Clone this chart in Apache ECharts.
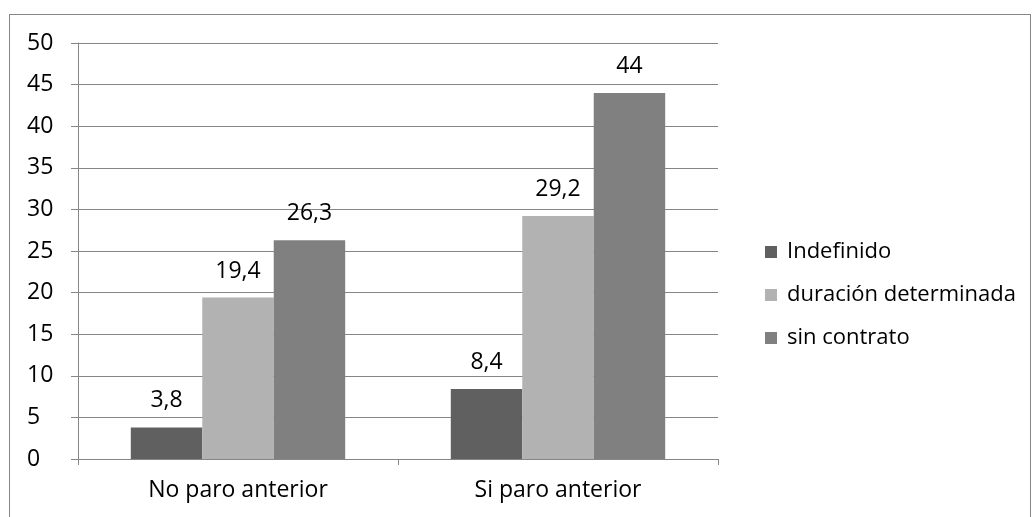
<!DOCTYPE html>
<html>
<head>
<meta charset="utf-8">
<script src="https://cdn.jsdelivr.net/npm/echarts@6/dist/echarts.min.js"></script>
<style>
  html, body { margin: 0; padding: 0; background: #fff; }
  #frame { position: absolute; left: 9px; top: 14px; width: 1022px; height: 510px; border: 1px solid #868686; box-sizing: border-box; }
  #chart { position: absolute; left: 0; top: 0; width: 1034px; height: 517px; }
</style>
</head>
<body>
<div id="frame"></div>
<div id="chart"></div>
<script>
var categories = ['No paro anterior', 'Si paro anterior'];
var indefinido = [3.8, 8.4];
var duracion = [19.4, 29.2];
var sinContrato = [26.3, 44];

var chart = echarts.init(document.getElementById('chart'));

function fmt(p) {
  return String(p.value).replace('.', ',');
}

var labelStyle = {
  show: true,
  position: 'top',
  distance: 15,
  color: '#000',
  fontSize: 23,
  fontFamily: 'Open Sans',
  formatter: fmt
};

chart.setOption({
  animation: false,
  textStyle: { fontFamily: 'Open Sans' },
  grid: { left: 78, right: 316, top: 43, bottom: 58 },
  legend: {
    orient: 'vertical',
    left: 760,
    top: 236,
    itemWidth: 12,
    itemHeight: 12,
    itemGap: 21,
    icon: 'rect',
    textStyle: { color: '#000', fontSize: 22, fontFamily: 'Open Sans', padding: [0, 0, 0, 5] },
    data: ['Indefinido', 'duración determinada', 'sin contrato']
  },
  xAxis: {
    type: 'category',
    data: categories,
    axisLine: { lineStyle: { color: '#868686' } },
    axisTick: { show: true, length: 6, alignWithLabel: false, lineStyle: { color: '#868686' } },
    axisLabel: { color: '#000', fontSize: 23, fontFamily: 'Open Sans', margin: 20 }
  },
  yAxis: {
    type: 'value',
    min: 0,
    max: 50,
    interval: 5,
    axisLine: { show: true, lineStyle: { color: '#868686' } },
    axisTick: { show: true, length: 7, lineStyle: { color: '#868686' } },
    axisLabel: { color: '#000', fontSize: 23, fontFamily: 'Open Sans', margin: 51, align: 'left' },
    splitLine: { lineStyle: { color: '#868686' } }
  },
  series: [
    { name: 'Indefinido', type: 'bar', data: indefinido, barGap: '0%', barCategoryGap: '33%',
      itemStyle: { color: '#606060' }, label: labelStyle },
    { name: 'duración determinada', type: 'bar', data: duracion, barGap: '0%', barCategoryGap: '33%',
      itemStyle: { color: '#b2b2b2' }, label: labelStyle },
    { name: 'sin contrato', type: 'bar', data: sinContrato, barGap: '0%', barCategoryGap: '33%',
      itemStyle: { color: '#808080' }, label: labelStyle }
  ]
});
</script>
</body>
</html>
